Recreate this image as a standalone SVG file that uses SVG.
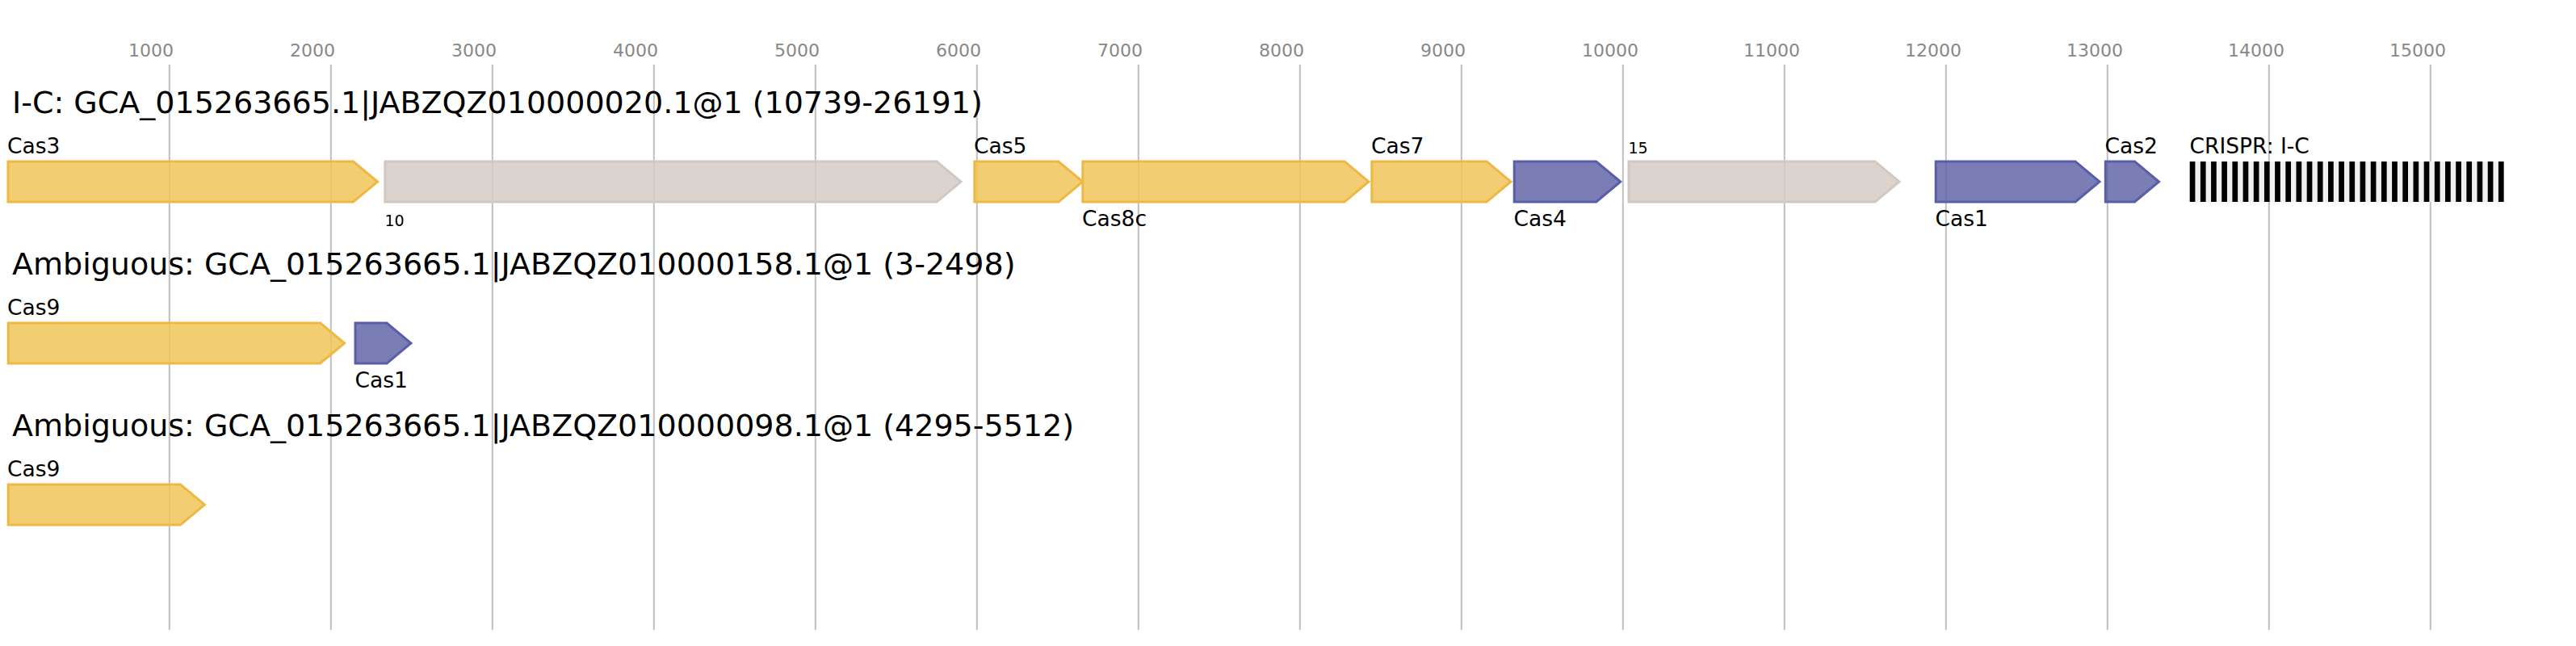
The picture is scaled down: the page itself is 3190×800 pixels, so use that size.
<svg xmlns="http://www.w3.org/2000/svg" width="3190" height="800" viewBox="0 0 3190 800">
<style>
text{font-family:"DejaVu Sans","Liberation Sans",sans-serif;fill:#000}
.tick{font-size:22px;fill:#888}
.title{font-size:38px}
.lab{font-size:26.5px}
.num{font-size:19px}
.grid line{stroke:#c0c0c0;stroke-width:2}
.y{fill:#f0c459;fill-opacity:.85;stroke:#edb944;stroke-width:3}
.g{fill:#d5ccc6;fill-opacity:.85;stroke:#d2c8c1;stroke-width:3}
.b{fill:#6467a8;fill-opacity:.85;stroke:#5a5da8;stroke-width:3}
.bar{fill:#000}
</style>
<rect width="3190" height="800" fill="#fff"/>
<g id="axis" class="grid">
<line x1="209.8" y1="80" x2="209.8" y2="780"/>
<line x1="409.8" y1="80" x2="409.8" y2="780"/>
<line x1="609.8" y1="80" x2="609.8" y2="780"/>
<line x1="809.8" y1="80" x2="809.8" y2="780"/>
<line x1="1009.8" y1="80" x2="1009.8" y2="780"/>
<line x1="1209.8" y1="80" x2="1209.8" y2="780"/>
<line x1="1409.8" y1="80" x2="1409.8" y2="780"/>
<line x1="1609.8" y1="80" x2="1609.8" y2="780"/>
<line x1="1809.8" y1="80" x2="1809.8" y2="780"/>
<line x1="2009.8" y1="80" x2="2009.8" y2="780"/>
<line x1="2209.8" y1="80" x2="2209.8" y2="780"/>
<line x1="2409.8" y1="80" x2="2409.8" y2="780"/>
<line x1="2609.8" y1="80" x2="2609.8" y2="780"/>
<line x1="2809.8" y1="80" x2="2809.8" y2="780"/>
<line x1="3009.8" y1="80" x2="3009.8" y2="780"/>
<text class="tick" x="159" y="69.5">1000</text>
<text class="tick" x="359" y="69.5">2000</text>
<text class="tick" x="559" y="69.5">3000</text>
<text class="tick" x="759" y="69.5">4000</text>
<text class="tick" x="959" y="69.5">5000</text>
<text class="tick" x="1159" y="69.5">6000</text>
<text class="tick" x="1359" y="69.5">7000</text>
<text class="tick" x="1559" y="69.5">8000</text>
<text class="tick" x="1759" y="69.5">9000</text>
<text class="tick" x="1959" y="69.5">10000</text>
<text class="tick" x="2159" y="69.5">11000</text>
<text class="tick" x="2359" y="69.5">12000</text>
<text class="tick" x="2559" y="69.5">13000</text>
<text class="tick" x="2759" y="69.5">14000</text>
<text class="tick" x="2959" y="69.5">15000</text>
</g>
<g id="titles">
<text class="title" x="15" y="140">I-C: GCA_015263665.1|JABZQZ010000020.1@1 (10739-26191)</text>
<text class="title" x="15" y="340">Ambiguous: GCA_015263665.1|JABZQZ010000158.1@1 (3-2498)</text>
<text class="title" x="15" y="540">Ambiguous: GCA_015263665.1|JABZQZ010000098.1@1 (4295-5512)</text>
</g>
<g id="connectors"></g>
<g id="r1-cas3"><path class="y" d="M10,200 H437.5 L467.5,225 L437.5,250 H10 Z"/><text class="lab" x="9" y="190">Cas3</text></g>
<g id="r1-gene10"><path class="g" d="M476.8,200 H1160 L1190,225 L1160,250 H476.8 Z"/><text class="num" x="476.5" y="280">10</text></g>
<g id="r1-cas5"><path class="y" d="M1206.8,200 H1310.8 L1340.8,225 L1310.8,250 H1206.8 Z"/><text class="lab" x="1206" y="190">Cas5</text></g>
<g id="r1-cas8c"><path class="y" d="M1340.8,200 H1665 L1695,225 L1665,250 H1340.8 Z"/><text class="lab" x="1340" y="280">Cas8c</text></g>
<g id="r1-cas7"><path class="y" d="M1698.8,200 H1841 L1871,225 L1841,250 H1698.8 Z"/><text class="lab" x="1698" y="190">Cas7</text></g>
<g id="r1-cas4"><path class="b" d="M1875.2,200 H1976.7 L2006.7,225 L1976.7,250 H1875.2 Z"/><text class="lab" x="1874.5" y="280">Cas4</text></g>
<g id="r1-gene15"><path class="g" d="M2017,200 H2322 L2352,225 L2322,250 H2017 Z"/><text class="num" x="2016.5" y="190">15</text></g>
<g id="r1-cas1"><path class="b" d="M2397.2,200 H2570 L2600,225 L2570,250 H2397.2 Z"/><text class="lab" x="2396.5" y="280">Cas1</text></g>
<g id="r1-cas2"><path class="b" d="M2607.3,200 H2643.5 L2673.5,225 L2643.5,250 H2607.3 Z"/><text class="lab" x="2606.5" y="190">Cas2</text></g>
<g id="r1-crispr">
<rect x="2711.7" y="200" width="389" height="50" fill="#f0f0f0"/>
<rect class="bar" x="2711.70" y="200" width="6.7" height="50"/>
<rect class="bar" x="2724.88" y="200" width="6.7" height="50"/>
<rect class="bar" x="2738.06" y="200" width="6.7" height="50"/>
<rect class="bar" x="2751.24" y="200" width="6.7" height="50"/>
<rect class="bar" x="2764.42" y="200" width="6.7" height="50"/>
<rect class="bar" x="2777.60" y="200" width="6.7" height="50"/>
<rect class="bar" x="2790.78" y="200" width="6.7" height="50"/>
<rect class="bar" x="2803.96" y="200" width="6.7" height="50"/>
<rect class="bar" x="2817.14" y="200" width="6.7" height="50"/>
<rect class="bar" x="2830.32" y="200" width="6.7" height="50"/>
<rect class="bar" x="2843.50" y="200" width="6.7" height="50"/>
<rect class="bar" x="2856.68" y="200" width="6.7" height="50"/>
<rect class="bar" x="2869.86" y="200" width="6.7" height="50"/>
<rect class="bar" x="2883.04" y="200" width="6.7" height="50"/>
<rect class="bar" x="2896.22" y="200" width="6.7" height="50"/>
<rect class="bar" x="2909.40" y="200" width="6.7" height="50"/>
<rect class="bar" x="2922.58" y="200" width="6.7" height="50"/>
<rect class="bar" x="2935.76" y="200" width="6.7" height="50"/>
<rect class="bar" x="2948.94" y="200" width="6.7" height="50"/>
<rect class="bar" x="2962.12" y="200" width="6.7" height="50"/>
<rect class="bar" x="2975.30" y="200" width="6.7" height="50"/>
<rect class="bar" x="2988.48" y="200" width="6.7" height="50"/>
<rect class="bar" x="3001.66" y="200" width="6.7" height="50"/>
<rect class="bar" x="3014.84" y="200" width="6.7" height="50"/>
<rect class="bar" x="3028.02" y="200" width="6.7" height="50"/>
<rect class="bar" x="3041.20" y="200" width="6.7" height="50"/>
<rect class="bar" x="3054.38" y="200" width="6.7" height="50"/>
<rect class="bar" x="3067.56" y="200" width="6.7" height="50"/>
<rect class="bar" x="3080.74" y="200" width="6.7" height="50"/>
<rect class="bar" x="3093.92" y="200" width="6.7" height="50"/>
<text class="lab" x="2711.5" y="190">CRISPR: I-C</text>
</g>
<g id="r2-cas9"><path class="y" d="M10.2,400 H396.6 L426.6,425 L396.6,450 H10.2 Z"/><text class="lab" x="9" y="390">Cas9</text></g>
<g id="r2-cas1"><path class="b" d="M440,400 H479 L509,425 L479,450 H440 Z"/><text class="lab" x="439.5" y="480">Cas1</text></g>
<g id="r3-cas9"><path class="y" d="M10.2,600 H223.4 L253.4,625 L223.4,650 H10.2 Z"/><text class="lab" x="9" y="590">Cas9</text></g>
</svg>
